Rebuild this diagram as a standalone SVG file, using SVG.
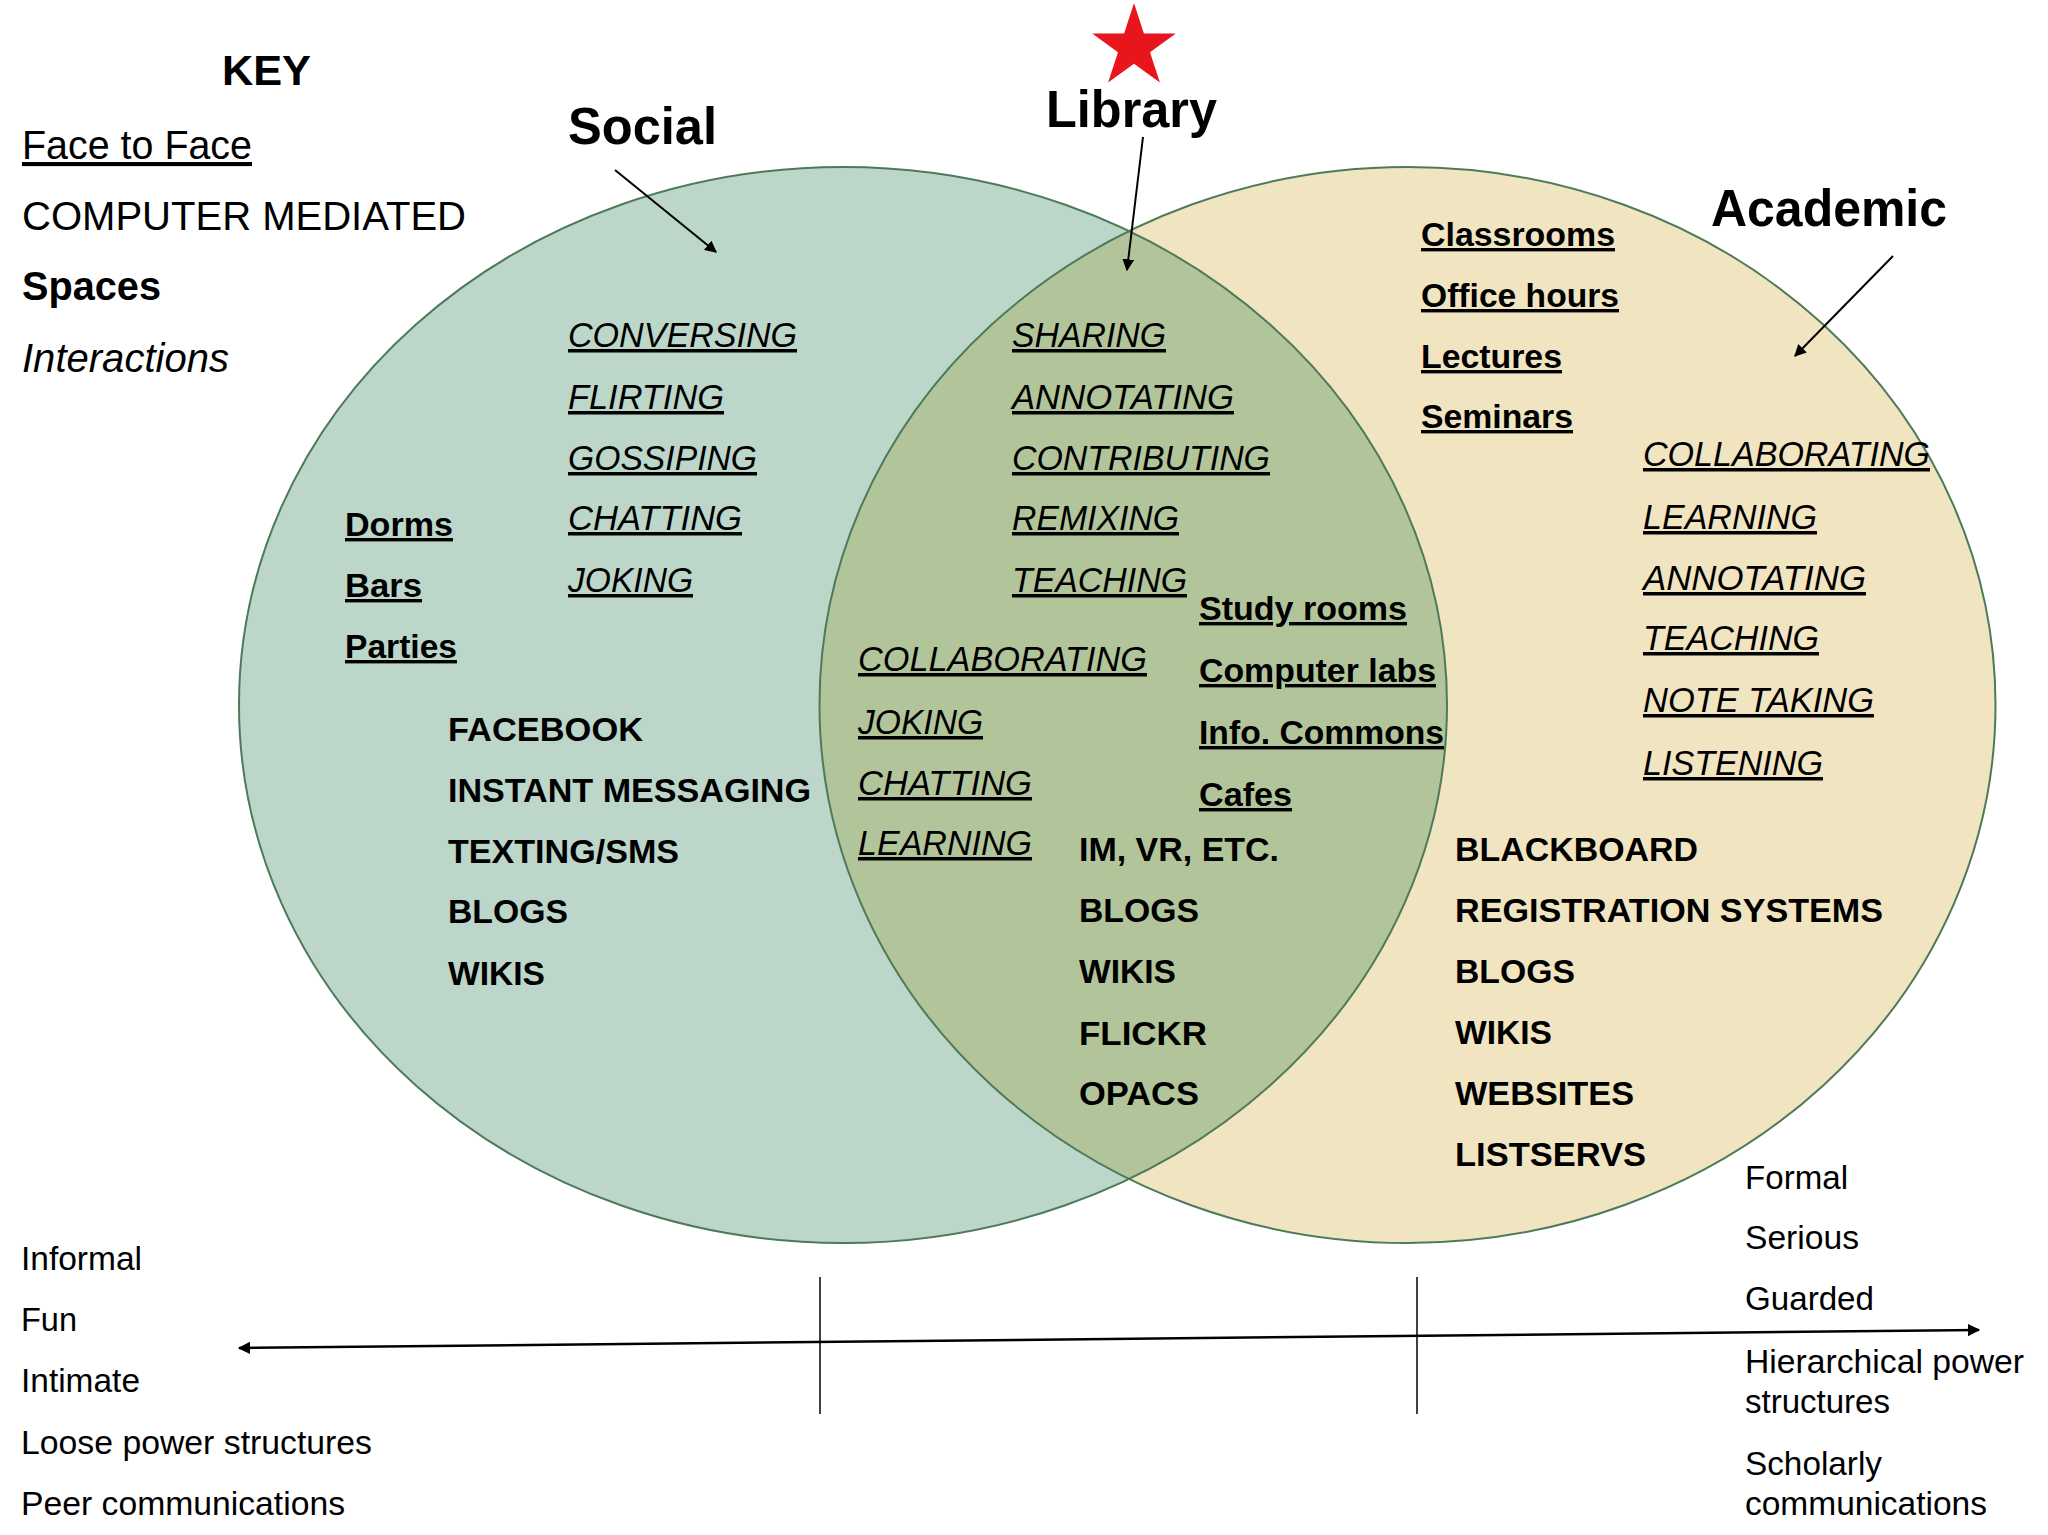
<svg xmlns="http://www.w3.org/2000/svg" width="2048" height="1535" viewBox="0 0 2048 1535">
<style>
text{font-family:"Liberation Sans",Arial,sans-serif;fill:#000}
.b{font-weight:bold}
.i{font-style:italic}
.u{text-decoration:underline}
.k{font-size:41px}
.h{font-size:52px;font-weight:bold}
.s{font-size:34px;font-weight:bold}
.n{font-size:35px;font-style:italic;text-decoration:underline}
.c{font-size:34px;font-weight:bold}
.x{font-size:34px}
.ring{fill:none;stroke:#4d7a58;stroke-width:2}
.arr{stroke:#000;stroke-width:2;fill:none;marker-end:url(#ah)}
</style>
<defs>
<marker id="ah" viewBox="0 0 10 10" refX="9" refY="5" markerWidth="6" markerHeight="6" markerUnits="strokeWidth" orient="auto">
<path d="M0,0 L10,5 L0,10 z" fill="#000"/>
</marker>
<marker id="ah2" viewBox="0 0 10 10" refX="9" refY="5" markerWidth="5" markerHeight="5" markerUnits="strokeWidth" orient="auto-start-reverse">
<path d="M0,0 L10,5 L0,10 z" fill="#000"/>
</marker>
<clipPath id="leftClip"><ellipse cx="843" cy="705" rx="604" ry="538"/></clipPath>
</defs>
<rect width="2048" height="1535" fill="#fff"/>

<g id="circles">
<ellipse cx="1407.5" cy="705" rx="588" ry="538" fill="#f1e4c1"/>
<ellipse cx="843" cy="705" rx="604" ry="538" fill="#bcd6ca"/>
<ellipse cx="1407.5" cy="705" rx="588" ry="538" fill="#b2c59a" clip-path="url(#leftClip)"/>
<ellipse class="ring" cx="843" cy="705" rx="604" ry="538"/>
<ellipse class="ring" cx="1407.5" cy="705" rx="588" ry="538"/>
</g>

<g id="key">
<text class="b" x="222" y="85" font-size="43" textLength="89" lengthAdjust="spacingAndGlyphs">KEY</text>
<text class="k u" x="22" y="159" textLength="230" lengthAdjust="spacingAndGlyphs">Face to Face</text>
<text class="k" x="22" y="230" textLength="444" lengthAdjust="spacingAndGlyphs">COMPUTER MEDIATED</text>
<text class="k b" x="22" y="300" textLength="139" lengthAdjust="spacingAndGlyphs">Spaces</text>
<text class="k i" x="22" y="372" textLength="207" lengthAdjust="spacingAndGlyphs">Interactions</text>
</g>

<g id="star">
<polygon points="1134,3 1143.9,33.4 1175.8,33.4 1150,52.2 1159.9,82.6 1134,63.8 1108.1,82.6 1118,52.2 1092.2,33.4 1124.1,33.4" fill="#e8161c"/>
</g>

<g id="social-label"><text class="h" x="568" y="144" textLength="149" lengthAdjust="spacingAndGlyphs">Social</text></g>
<g id="library-label"><text class="h" x="1046" y="127" textLength="171" lengthAdjust="spacingAndGlyphs">Library</text></g>
<g id="academic-label"><text class="h" x="1711" y="226" textLength="236" lengthAdjust="spacingAndGlyphs">Academic</text></g>

<g id="connectors">
<line class="arr" x1="615" y1="170" x2="716" y2="252"/>
<line class="arr" x1="1143" y1="137" x2="1127" y2="270"/>
<line class="arr" x1="1893" y1="256" x2="1795" y2="356"/>
<line x1="239" y1="1348" x2="1979" y2="1330" stroke="#000" stroke-width="2.5" marker-start="url(#ah2)" marker-end="url(#ah2)"/>
<line x1="820" y1="1277" x2="820" y2="1414" stroke="#000" stroke-width="1.5"/>
<line x1="1417" y1="1277" x2="1417" y2="1414" stroke="#000" stroke-width="1.5"/>
</g>

<g id="social">
<text class="n" x="568" y="347" textLength="229" lengthAdjust="spacingAndGlyphs">CONVERSING</text>
<text class="n" x="568" y="409" textLength="156" lengthAdjust="spacingAndGlyphs">FLIRTING</text>
<text class="n" x="568" y="470" textLength="189" lengthAdjust="spacingAndGlyphs">GOSSIPING</text>
<text class="n" x="568" y="530" textLength="174" lengthAdjust="spacingAndGlyphs">CHATTING</text>
<text class="n" x="568" y="592" textLength="125" lengthAdjust="spacingAndGlyphs">JOKING</text>
<text class="s u" x="345" y="536" textLength="108" lengthAdjust="spacingAndGlyphs">Dorms</text>
<text class="s u" x="345" y="597" textLength="77" lengthAdjust="spacingAndGlyphs">Bars</text>
<text class="s u" x="345" y="658" textLength="112" lengthAdjust="spacingAndGlyphs">Parties</text>
<text class="c" x="448" y="741" textLength="195" lengthAdjust="spacingAndGlyphs">FACEBOOK</text>
<text class="c" x="448" y="802" textLength="363" lengthAdjust="spacingAndGlyphs">INSTANT MESSAGING</text>
<text class="c" x="448" y="863" textLength="231" lengthAdjust="spacingAndGlyphs">TEXTING/SMS</text>
<text class="c" x="448" y="923" textLength="120" lengthAdjust="spacingAndGlyphs">BLOGS</text>
<text class="c" x="448" y="985" textLength="97" lengthAdjust="spacingAndGlyphs">WIKIS</text>
</g>

<g id="library">
<text class="n" x="1012" y="347" textLength="154" lengthAdjust="spacingAndGlyphs">SHARING</text>
<text class="n" x="1012" y="409" textLength="222" lengthAdjust="spacingAndGlyphs">ANNOTATING</text>
<text class="n" x="1012" y="470" textLength="258" lengthAdjust="spacingAndGlyphs">CONTRIBUTING</text>
<text class="n" x="1012" y="530" textLength="167" lengthAdjust="spacingAndGlyphs">REMIXING</text>
<text class="n" x="1012" y="592" textLength="175" lengthAdjust="spacingAndGlyphs">TEACHING</text>
<text class="n" x="858" y="671" textLength="289" lengthAdjust="spacingAndGlyphs">COLLABORATING</text>
<text class="n" x="858" y="734" textLength="125" lengthAdjust="spacingAndGlyphs">JOKING</text>
<text class="n" x="858" y="795" textLength="174" lengthAdjust="spacingAndGlyphs">CHATTING</text>
<text class="n" x="858" y="855" textLength="174" lengthAdjust="spacingAndGlyphs">LEARNING</text>
<text class="s u" x="1199" y="620" textLength="208" lengthAdjust="spacingAndGlyphs">Study rooms</text>
<text class="s u" x="1199" y="682" textLength="237" lengthAdjust="spacingAndGlyphs">Computer labs</text>
<text class="s u" x="1199" y="744" textLength="245" lengthAdjust="spacingAndGlyphs">Info. Commons</text>
<text class="s u" x="1199" y="806" textLength="93" lengthAdjust="spacingAndGlyphs">Cafes</text>
<text class="c" x="1079" y="861" textLength="200" lengthAdjust="spacingAndGlyphs">IM, VR, ETC.</text>
<text class="c" x="1079" y="922" textLength="120" lengthAdjust="spacingAndGlyphs">BLOGS</text>
<text class="c" x="1079" y="983" textLength="97" lengthAdjust="spacingAndGlyphs">WIKIS</text>
<text class="c" x="1079" y="1045" textLength="128" lengthAdjust="spacingAndGlyphs">FLICKR</text>
<text class="c" x="1079" y="1105" textLength="120" lengthAdjust="spacingAndGlyphs">OPACS</text>
</g>

<g id="academic">
<text class="s u" x="1421" y="246" textLength="194" lengthAdjust="spacingAndGlyphs">Classrooms</text>
<text class="s u" x="1421" y="307" textLength="198" lengthAdjust="spacingAndGlyphs">Office hours</text>
<text class="s u" x="1421" y="368" textLength="141" lengthAdjust="spacingAndGlyphs">Lectures</text>
<text class="s u" x="1421" y="428" textLength="152" lengthAdjust="spacingAndGlyphs">Seminars</text>
<text class="n" x="1643" y="466" textLength="287" lengthAdjust="spacingAndGlyphs">COLLABORATING</text>
<text class="n" x="1643" y="529" textLength="174" lengthAdjust="spacingAndGlyphs">LEARNING</text>
<text class="n" x="1643" y="590" textLength="223" lengthAdjust="spacingAndGlyphs">ANNOTATING</text>
<text class="n" x="1643" y="650" textLength="176" lengthAdjust="spacingAndGlyphs">TEACHING</text>
<text class="n" x="1643" y="712" textLength="231" lengthAdjust="spacingAndGlyphs">NOTE TAKING</text>
<text class="n" x="1643" y="775" textLength="180" lengthAdjust="spacingAndGlyphs">LISTENING</text>
<text class="c" x="1455" y="861" textLength="243" lengthAdjust="spacingAndGlyphs">BLACKBOARD</text>
<text class="c" x="1455" y="922" textLength="428" lengthAdjust="spacingAndGlyphs">REGISTRATION SYSTEMS</text>
<text class="c" x="1455" y="983" textLength="120" lengthAdjust="spacingAndGlyphs">BLOGS</text>
<text class="c" x="1455" y="1044" textLength="97" lengthAdjust="spacingAndGlyphs">WIKIS</text>
<text class="c" x="1455" y="1105" textLength="179" lengthAdjust="spacingAndGlyphs">WEBSITES</text>
<text class="c" x="1455" y="1166" textLength="191" lengthAdjust="spacingAndGlyphs">LISTSERVS</text>
</g>

<g id="scale-left">
<text class="x" x="21" y="1270" textLength="121" lengthAdjust="spacingAndGlyphs">Informal</text>
<text class="x" x="21" y="1331" textLength="56" lengthAdjust="spacingAndGlyphs">Fun</text>
<text class="x" x="21" y="1392" textLength="119" lengthAdjust="spacingAndGlyphs">Intimate</text>
<text class="x" x="21" y="1454" textLength="351" lengthAdjust="spacingAndGlyphs">Loose power structures</text>
<text class="x" x="21" y="1515" textLength="324" lengthAdjust="spacingAndGlyphs">Peer communications</text>
</g>

<g id="scale-right">
<text class="x" x="1745" y="1189" textLength="103" lengthAdjust="spacingAndGlyphs">Formal</text>
<text class="x" x="1745" y="1249" textLength="114" lengthAdjust="spacingAndGlyphs">Serious</text>
<text class="x" x="1745" y="1310" textLength="129" lengthAdjust="spacingAndGlyphs">Guarded</text>
<text class="x" x="1745" y="1373" textLength="279" lengthAdjust="spacingAndGlyphs">Hierarchical power</text>
<text class="x" x="1745" y="1413" textLength="145" lengthAdjust="spacingAndGlyphs">structures</text>
<text class="x" x="1745" y="1475" textLength="137" lengthAdjust="spacingAndGlyphs">Scholarly</text>
<text class="x" x="1745" y="1515" textLength="242" lengthAdjust="spacingAndGlyphs">communications</text>
</g>
</svg>
